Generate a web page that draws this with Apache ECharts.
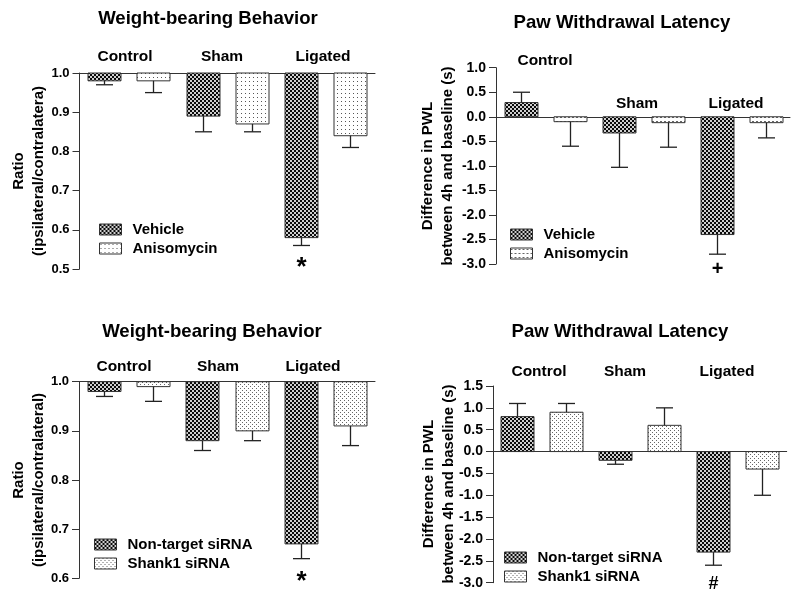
<!DOCTYPE html>
<html><head><meta charset="utf-8">
<script src="https://cdn.jsdelivr.net/npm/echarts@6/dist/echarts.min.js"></script>
<style>html,body{margin:0;padding:0;background:#fff}#c{width:800px;height:602px}</style>
</head><body><div id="c"></div>
<script>
// ---------------- DATA ----------------
const groups = ['Control', 'Sham', 'Ligated'];
const slots = ['Control-1', 'Control-2', 'Sham-1', 'Sham-2', 'Ligated-1', 'Ligated-2'];

// Panel A: Weight-bearing, Vehicle vs Anisomycin
const wbVehicleMean = [0.98, 0.89, 0.58];
const wbVehicleSem  = [0.01, 0.04, 0.02];
const wbAnisoMean   = [0.98, 0.87, 0.84];
const wbAnisoSem    = [0.03, 0.02, 0.03];
const wbVehicleMarks = ['', '', '*'];

// Panel B: PWL, Vehicle vs Anisomycin
const pwlVehicleMean = [0.29, -0.33, -2.40];
const pwlVehicleSem  = [0.21, 0.70, 0.40];
const pwlAnisoMean   = [-0.10, -0.12, -0.12];
const pwlAnisoSem    = [0.50, 0.50, 0.31];
const pwlVehicleMarks = ['', '', '+'];

// Panel C: Weight-bearing, siRNA
const wbNtMean = [0.98, 0.88, 0.67];
const wbNtSem  = [0.01, 0.02, 0.03];
const wbShMean = [0.99, 0.90, 0.91];
const wbShSem  = [0.03, 0.02, 0.04];
const wbNtMarks = ['', '', '*'];

// Panel D: PWL, siRNA
const pwlNtMean = [0.80, -0.20, -2.30];
const pwlNtSem  = [0.30, 0.09, 0.30];
const pwlShMean = [0.90, 0.60, -0.40];
const pwlShSem  = [0.20, 0.40, 0.60];
const pwlNtMarks = ['', '', '#'];

// axis ranges
const axisA = {min: 0.5, max: 1.0, interval: 0.1};
const axisB = {min: -3.0, max: 1.0, interval: 0.5};
const axisC = {min: 0.6, max: 1.0, interval: 0.1};
const axisD = {min: -3.0, max: 1.5, interval: 0.5};

const titleWB = 'Weight-bearing Behavior';
const titlePWL = 'Paw Withdrawal Latency';
const yNameA = 'Ratio\n(ipsilateral/contralatera)';
const yNameC = 'Ratio\n(ipsilateral/contralateral)';
const yNamePWL = 'Difference in PWL\nbetween 4h and baseline (s)';

// ---------------- STYLE ----------------
const FONT = '"Liberation Sans", Arial, Helvetica, sans-serif';
const BAR_W = 33, CAP = 8.5;

function makePattern(w, h, bg, fg, rects) {
  const c = document.createElement('canvas');
  c.width = w; c.height = h;
  const g = c.getContext('2d');
  g.fillStyle = bg; g.fillRect(0, 0, w, h);
  g.fillStyle = fg;
  rects.forEach(r => g.fillRect(r[0], r[1], r[2], r[3]));
  return {image: c, repeat: 'repeat'};
}
const patChecker = makePattern(4, 4, '#cfcfcf', '#0a0a0a', [[0,0,2,2],[2,2,2,2]]);
const patDots = makePattern(4, 4, '#fff', '#555', [[1,1,1,1]]);
const patDash = makePattern(4, 4, '#fff', '#666', [[0,1,2,1]]);
const patStagger = makePattern(4, 4, '#fff', '#666', [[0,0,1,1],[2,2,1,1]]);

const grids = [
  {left: 79.5, top: 73, width: 295.5, height: 196},
  {left: 496, top: 67.7, width: 294, height: 196.3},
  {left: 79, top: 381.7, width: 296, height: 196.6},
  {left: 493, top: 386, width: 293.7, height: 196.7}
];

function xAx(gi, top) {
  return {type: 'category', gridIndex: gi, data: slots, position: top ? 'top' : 'bottom',
    axisLine: {show: true, onZero: !top, lineStyle: {color: '#333', width: 1}},
    axisTick: {show: false}, axisLabel: {show: false}, splitLine: {show: false}};
}
function yAx(gi, rng, fs) {
  return {type: 'value', gridIndex: gi, min: rng.min, max: rng.max, interval: rng.interval,
    axisLine: {show: true, lineStyle: {color: '#333', width: 1}},
    axisTick: {show: true, length: 7, lineStyle: {color: '#333', width: 1}},
    axisLabel: {color: '#000', fontFamily: FONT, fontWeight: 'bold', fontSize: fs, margin: 10,
      formatter: v => (Math.round(v * 10) / 10).toFixed(1)},
    splitLine: {show: false}};
}

function barSeries(name, gi, offset, means, sems, marks, pattern, baseline, mark) {
  return {
    type: 'custom', name: name, xAxisIndex: gi, yAxisIndex: gi,
    itemStyle: {color: pattern, borderColor: '#333', borderWidth: 1},
    data: means.map((m, i) => [i * 2 + offset, m, sems[i]]),
    renderItem: function (params, api) {
      const x = api.value(0), m = api.value(1), s = api.value(2);
      const dir = m >= baseline ? 1 : -1;
      const pb = api.coord([x, baseline]);
      const pm = api.coord([x, m]);
      const pe = api.coord([x, m + dir * s]);
      const cx = Math.round(pb[0]) + 0.5;
      const top = Math.min(pb[1], pm[1]);
      const h = Math.abs(pm[1] - pb[1]);
      const children = [
        {type: 'rect', shape: {x: cx - BAR_W / 2, y: top, width: BAR_W, height: h},
          style: {fill: pattern, stroke: '#333', lineWidth: 1}},
        {type: 'line', shape: {x1: cx, y1: pm[1], x2: cx, y2: pe[1]},
          style: {stroke: '#222', lineWidth: 1.3}},
        {type: 'line', shape: {x1: cx - CAP, y1: pe[1], x2: cx + CAP, y2: pe[1]},
          style: {stroke: '#222', lineWidth: 1.3}}
      ];
      const mk = marks && marks[params.dataIndex];
      if (mk) {
        children.push({type: 'text', style: {text: mk, x: cx, y: pe[1] + mark.dy,
          fill: '#000', font: 'bold ' + mark.size + 'px ' + FONT,
          textAlign: 'center', textVerticalAlign: 'middle'}});
      }
      return {type: 'group', children: children};
    }
  };
}

function legend(names, pats, left, top) {
  return {orient: 'vertical', left: left, top: top, padding: 0, itemGap: 4,
    itemWidth: 22, itemHeight: 11, icon: 'rect', selectedMode: false,
    itemStyle: {borderColor: '#333', borderWidth: 1},
    textStyle: {fontFamily: FONT, fontWeight: 'bold', fontSize: 15, color: '#000', padding: [0, 0, 0, 6]},
    data: names.map((n, i) => ({name: n, itemStyle: {color: pats[i], borderColor: '#333', borderWidth: 1}}))};
}

function txt(x, y, text, size, rot) {
  return {type: 'text', x: x, y: y, rotation: rot || 0,
    style: {text: text, fill: '#000', font: 'bold ' + size + 'px ' + FONT,
      textAlign: 'center', textVerticalAlign: 'middle', lineHeight: 20}};
}

const graphics = [
  txt(208, 19, titleWB, 18.6), txt(622, 23, titlePWL, 18.6),
  txt(212, 332, titleWB, 18.6), txt(620, 332, titlePWL, 18.6),
  txt(125, 57, groups[0], 15.5), txt(222, 57, groups[1], 15.5), txt(323, 57, groups[2], 15.5),
  txt(545, 61, groups[0], 15.5), txt(637, 104, groups[1], 15.5), txt(736, 104, groups[2], 15.5),
  txt(124, 367, groups[0], 15.5), txt(218, 367, groups[1], 15.5), txt(313, 367, groups[2], 15.5),
  txt(539, 372, groups[0], 15.5), txt(625, 372, groups[1], 15.5), txt(727, 372, groups[2], 15.5),
  txt(28.5, 171, yNameA, 15, Math.PI / 2),
  txt(28.5, 480, yNameC, 15, Math.PI / 2),
  txt(438, 166, yNamePWL, 15, Math.PI / 2),
  txt(439, 484, yNamePWL, 15, Math.PI / 2)
];

const option = {
  animation: false,
  backgroundColor: '#fff',
  grid: grids,
  xAxis: [xAx(0, true), xAx(1, false), xAx(2, true), xAx(3, false)],
  yAxis: [yAx(0, axisA, 13), yAx(1, axisB, 14), yAx(2, axisC, 13), yAx(3, axisD, 14)],
  legend: [
    legend(['Vehicle', 'Anisomycin'], [patChecker, patDots], 99, 222),
    legend(['Vehicle', 'Anisomycin'], [patChecker, patDash], 510, 227),
    legend(['Non-target siRNA', 'Shank1 siRNA'], [patChecker, patStagger], 94, 537),
    legend(['Non-target siRNA', 'Shank1 siRNA'], [patChecker, patStagger], 504, 550)
  ],
  series: [
    barSeries('Vehicle', 0, 0, wbVehicleMean, wbVehicleSem, wbVehicleMarks, patChecker, 1.0, {dy: 22, size: 26}),
    barSeries('Anisomycin', 0, 1, wbAnisoMean, wbAnisoSem, null, patDots, 1.0),
    barSeries('Vehicle', 1, 0, pwlVehicleMean, pwlVehicleSem, pwlVehicleMarks, patChecker, 0, {dy: 15, size: 20}),
    barSeries('Anisomycin', 1, 1, pwlAnisoMean, pwlAnisoSem, null, patDash, 0),
    barSeries('Non-target siRNA', 2, 0, wbNtMean, wbNtSem, wbNtMarks, patChecker, 1.0, {dy: 23, size: 26}),
    barSeries('Shank1 siRNA', 2, 1, wbShMean, wbShSem, null, patStagger, 1.0),
    barSeries('Non-target siRNA', 3, 0, pwlNtMean, pwlNtSem, pwlNtMarks, patChecker, 0, {dy: 19, size: 18}),
    barSeries('Shank1 siRNA', 3, 1, pwlShMean, pwlShSem, null, patStagger, 0)
  ],
  graphic: graphics
};

const chart = echarts.init(document.getElementById('c'), null, {renderer: 'canvas'});
chart.setOption(option);
</script>
</body></html>
